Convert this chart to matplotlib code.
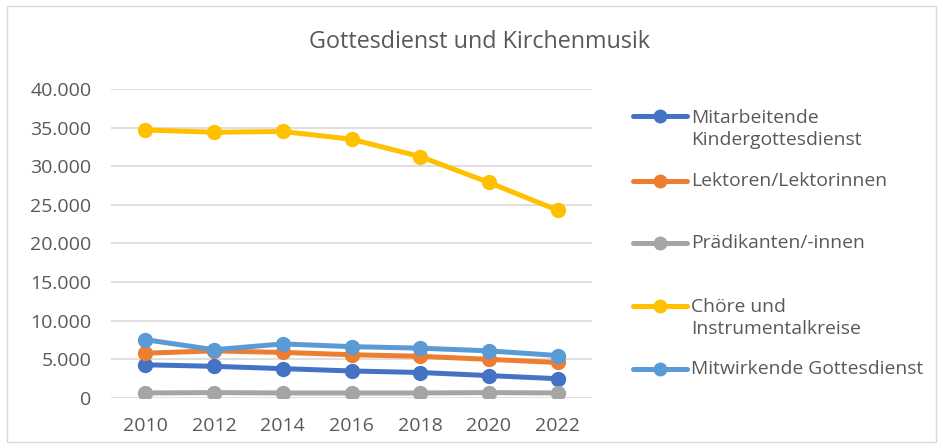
import matplotlib
matplotlib.use("Agg")
import matplotlib.pyplot as plt
from matplotlib.ticker import FuncFormatter, MultipleLocator
from matplotlib.lines import Line2D
from matplotlib.patches import FancyBboxPatch

years = ["2010", "2012", "2014", "2016", "2018", "2020", "2022"]
series_names = [
    "Mitarbeitende\nKindergottesdienst",
    "Lektoren/Lektorinnen",
    "Prädikanten/-innen",
    "Chöre und\nInstrumentalkreise",
    "Mitwirkende Gottesdienst",
]
kindergottesdienst = [4300, 4100, 3800, 3500, 3300, 2900, 2500]
lektoren = [5800, 6100, 5900, 5600, 5400, 5000, 4600]
praedikanten = [650, 700, 650, 650, 650, 700, 650]
choere = [34700, 34400, 34500, 33500, 31250, 27900, 24300]
mitwirkende = [7550, 6250, 7000, 6650, 6450, 6100, 5500]
colors = ["#4472C4", "#ED7D31", "#A5A5A5", "#FFC000", "#5B9BD5"]
title = "Gottesdienst und Kirchenmusik"

plt.rcParams["font.family"] = ["Open Sans", "DejaVu Sans"]
txt = "#595959"

fig = plt.figure(figsize=(9.43, 4.48), dpi=100)
fig.patch.set_facecolor("white")
fig.add_artist(FancyBboxPatch((7 / 943, 6 / 448), 929 / 943, 436 / 448,
                              boxstyle="square,pad=0", transform=fig.transFigure,
                              facecolor="none", edgecolor="#D9D9D9", linewidth=1))

ax = fig.add_axes([111 / 943, 1 - 398 / 448, (592 - 111) / 943, (398 - 89) / 448])
x = list(range(len(years)))
all_series = [kindergottesdienst, lektoren, praedikanten, choere, mitwirkende]
for vals, c in zip(all_series, colors):
    ax.plot(x, vals, color=c, linewidth=3.6, marker="o", markersize=10,
            solid_capstyle="round", zorder=3)

ax.set_xlim(-0.5, len(years) - 0.5)
ax.set_ylim(0, 40000)
ax.yaxis.set_major_locator(MultipleLocator(5000))
ax.yaxis.set_major_formatter(FuncFormatter(lambda v, p: f"{v:,.0f}".replace(",", ".")))
ax.set_xticks(x)
ax.set_xticklabels(years)
ax.grid(axis="y", color="#D9D9D9", linewidth=1.2)
ax.set_axisbelow(True)
for s in ax.spines.values():
    s.set_visible(False)
ax.tick_params(axis="both", length=0, labelsize=14, labelcolor=txt)
ax.tick_params(axis="y", pad=14)
ax.tick_params(axis="x", pad=14)

fig.text(480 / 943, 1 - 42 / 448, title, ha="center", va="center", fontsize=16.8, color=txt)

# legend
entry_y = [129, 181, 243, 318, 369]
for name, c, yy in zip(series_names, colors, entry_y):
    yf = 1 - yy / 448
    if "\n" in name:
        yf_line = 1 - (yy - 12.5) / 448
    else:
        yf_line = yf
    fig.add_artist(Line2D([633 / 943, 687 / 943], [yf_line, yf_line], transform=fig.transFigure,
                          color=c, linewidth=3.6, solid_capstyle="round"))
    fig.add_artist(Line2D([660 / 943], [yf_line], transform=fig.transFigure,
                          color=c, marker="o", markersize=9))
    fig.text(691 / 943, yf, name, ha="left", va="center", fontsize=13.9, color=txt,
             linespacing=1.32)

fig.savefig("out.png", dpi=100)
